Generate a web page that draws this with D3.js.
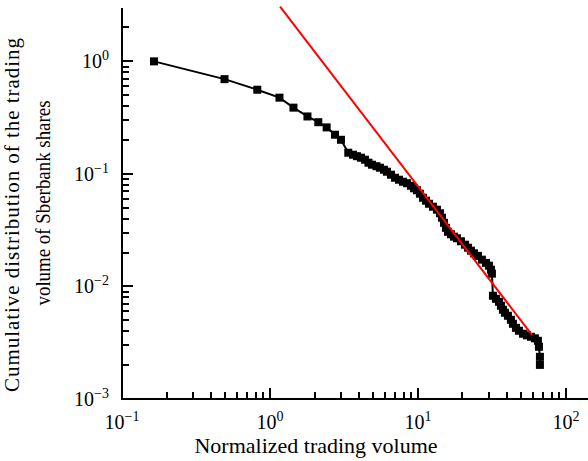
<!DOCTYPE html>
<html>
<head>
<meta charset="utf-8">
<script src="https://cdn.jsdelivr.net/npm/d3@7"></script>
<style>
  body { margin: 0; background: #fff; }
  text { font-family: "Liberation Serif", "Times New Roman", serif; fill: #000; }
</style>
</head>
<body>
<div id="plotDiv"></div>
<script>
// normalized trading volume (x) and cumulative distribution (y)
var volume = [0.1645, 0.493, 0.821, 1.159, 1.441, 1.792, 2.121, 2.416, 2.750, 3.018,
    3.382, 3.637, 3.871, 4.120, 4.385, 4.630, 4.889, 5.244, 5.537, 5.892,
    6.173, 6.570, 6.994, 7.442, 7.918, 8.428, 8.968, 9.397, 9.845, 10.31,
    10.81, 11.33, 11.87, 12.63, 13.44, 14.08, 14.53, 14.99, 15.46, 15.95,
    16.71, 17.51, 18.34, 19.52, 20.78, 21.77, 22.81, 23.90, 25.43, 27.06,
    28.81, 30.18, 31.13, 31.62, 32.12, 33.65, 35.27, 36.38, 37.53, 38.71,
    40.56, 42.50, 43.85, 45.94, 48.13, 51.23, 54.52, 58.01, 61.73, 64.68,
    65.70, 66.73, 66.73];
var cumDist = [1.0, 0.695, 0.560, 0.476, 0.388, 0.324, 0.288, 0.259, 0.223, 0.201,
    0.1543, 0.1481, 0.1437, 0.1393, 0.1337, 0.1258, 0.1207, 0.1171, 0.1135, 0.1090,
    0.1046, 0.0984, 0.0925, 0.0888, 0.0852, 0.0827, 0.0785, 0.0746, 0.0716, 0.0667,
    0.0614, 0.0578, 0.0543, 0.0511, 0.0481, 0.0447, 0.0408, 0.0368, 0.0332, 0.0306,
    0.0291, 0.0277, 0.0268, 0.0252, 0.0235, 0.0221, 0.0208, 0.0197, 0.0187, 0.0173,
    0.0162, 0.0153, 0.0141, 0.0130, 0.00827, 0.00777, 0.00731, 0.00674, 0.00621, 0.00584,
    0.00549, 0.00506, 0.00466, 0.00429, 0.00404, 0.00380, 0.00368, 0.00357, 0.00346, 0.00329,
    0.00291, 0.00237, 0.00201];

// power-law fit (red line) end points
var fitX = [1.17, 58.9];
var fitY = [3.06, 0.00372];

var xMajor = [0.1, 1, 10, 100];
var xExp = ["\u22121", "0", "1", "2"];
var yMajor = [0.001, 0.01, 0.1, 1];
var yExp = ["\u22123", "\u22122", "\u22121", "0"];

var xTitle = "Normalized trading volume";
var yTitle = ["Cumulative distribution of the trading", "volume of Sberbank shares"];

var margin = { top: 8, right: 0, bottom: 62, left: 122 };
var width = 588 - margin.left - margin.right;
var height = 461 - margin.top - margin.bottom;

var svg = d3.select("#plotDiv").append("svg")
    .attr("width", 588)
    .attr("height", 461);
var g = svg.append("g").attr("transform", "translate(" + margin.left + "," + margin.top + ")");

var xScale = d3.scaleLog().domain([0.1, 141]).range([0, width]);
var yScale = d3.scaleLog().domain([0.001, 2.98]).range([height, 0]);

function isMajor(d) {
    var e = Math.log10(d);
    return Math.abs(e - Math.round(e)) < 1e-6;
}

var points = volume.map(function (d, i) { return [d, cumDist[i]]; });

g.append("path").datum(points)
    .attr("fill", "none").attr("stroke", "#000").attr("stroke-width", 2)
    .attr("d", d3.line().x(function (d) { return xScale(d[0]); }).y(function (d) { return yScale(d[1]); }));

g.selectAll("rect.pt").data(points).enter().append("rect").attr("class", "pt")
    .attr("x", function (d) { return xScale(d[0]) - 4; })
    .attr("y", function (d) { return yScale(d[1]) - 4; })
    .attr("width", 8).attr("height", 8).attr("fill", "#000");

// red fit line, on top of the markers
g.append("line")
    .attr("x1", xScale(fitX[0])).attr("y1", yScale(fitY[0]))
    .attr("x2", xScale(fitX[1])).attr("y2", yScale(fitY[1]))
    .attr("stroke", "#ff0000").attr("stroke-width", 2);

// axis lines as filled bars
g.append("rect").attr("x", -1).attr("y", height - 1).attr("width", width + 1).attr("height", 2).attr("fill", "#000");
g.append("rect").attr("x", -1).attr("y", 0).attr("width", 2).attr("height", height).attr("fill", "#000");

// inward ticks as filled bars, decades longer
var xTicks = xScale.ticks();
var yTicks = yScale.ticks().filter(function (d) { return d <= 2.5; });

g.selectAll("rect.xtick").data(xTicks).enter().append("rect").attr("class", "xtick")
    .attr("x", function (d) { return Math.round(xScale(d)) - 1; })
    .attr("y", function (d) { return height - (isMajor(d) ? 11 : 7); })
    .attr("width", 2)
    .attr("height", function (d) { return isMajor(d) ? 11 : 7; })
    .attr("fill", "#000");
g.selectAll("rect.ytick").data(yTicks).enter().append("rect").attr("class", "ytick")
    .attr("x", 0)
    .attr("y", function (d) { return Math.round(yScale(d)) - 1; })
    .attr("width", function (d) { return isMajor(d) ? 11 : 7; })
    .attr("height", 2)
    .attr("fill", "#000");

// tick labels with superscript exponents
xMajor.forEach(function (v, i) {
    var lab = g.append("text").attr("x", xScale(v)).attr("y", height + 30)
        .attr("text-anchor", "middle").style("font-size", "20px");
    lab.append("tspan").text("10");
    lab.append("tspan").attr("dy", -8).style("font-size", "14px").text(xExp[i]);
});
yMajor.forEach(function (v, i) {
    var lab = g.append("text").attr("x", -13).attr("y", yScale(v) + 7)
        .attr("text-anchor", "end").style("font-size", "20px");
    lab.append("tspan").text("10");
    lab.append("tspan").attr("dy", -8).style("font-size", "14px").text(yExp[i]);
});

// axis titles
svg.append("text").attr("x", 316).attr("y", 453).attr("text-anchor", "middle")
    .style("font-size", "22px").text(xTitle);
svg.append("text").attr("transform", "translate(19,215) rotate(-90)").attr("text-anchor", "middle")
    .attr("textLength", 354).attr("lengthAdjust", "spacing")
    .style("font-size", "21px").text(yTitle[0]);
svg.append("text").attr("transform", "translate(50,203) rotate(-90)").attr("text-anchor", "middle")
    .attr("textLength", 205).attr("lengthAdjust", "spacingAndGlyphs")
    .style("font-size", "21px").text(yTitle[1]);
</script>
</body>
</html>
